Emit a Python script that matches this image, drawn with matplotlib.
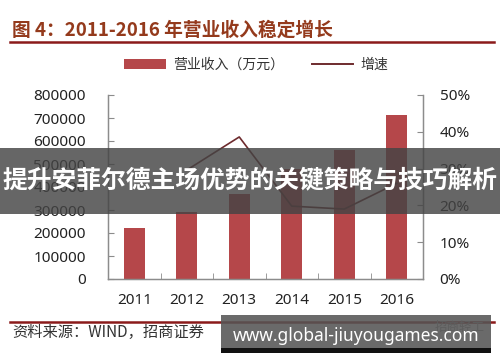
import matplotlib
matplotlib.use("Agg")
import matplotlib.pyplot as plt
from matplotlib.patches import Rectangle, Patch
from matplotlib.lines import Line2D
from matplotlib.ticker import FuncFormatter, MultipleLocator, FixedLocator

plt.rcParams['font.family'] = ['Noto Sans CJK SC', 'DejaVu Sans']

years = ['2011', '2012', '2013', '2014', '2015', '2016']
revenue = [220000, 290000, 368000, 478000, 560000, 712000]
growth_years = ['2012', '2013', '2014', '2015', '2016']
growth = [0.296, 0.386, 0.198, 0.190, 0.260]

title = '图 4：2011-2016 年营业收入稳定增长'
legend_labels = ['营业收入（万元）', '增速']
source = '资料来源：WIND，招商证券'
banner = '提升安菲尔德主场优势的关键策略与技巧解析'
site = 'www.global-jiuyougames.com'
logo = '招商轻工'

W, H = 500, 362
fig = plt.figure(figsize=(W / 100, H / 100), dpi=100)

def fx(px):
    return px / W

def fy(py):
    return 1 - py / H

bar_color = '#B5474A'
line_color = '#6E2B2E'
axis_color = '#8C8C8C'
tick_family = ['Noto Sans', 'DejaVu Sans']
tick_size = 11

ax = fig.add_axes([fx(108), fy(279), fx(423) - fx(108), fy(95) - fy(279)])
x = list(range(len(years)))
ax.bar(x, revenue, width=0.4, color=bar_color, zorder=2)
ax.set_xlim(-0.5, len(years) - 0.5)
ax.set_ylim(0, 800000)
ax.yaxis.set_major_locator(MultipleLocator(100000))
ax.yaxis.set_major_formatter(FuncFormatter(lambda v, p: f'{int(v)}'))
ax.set_xticks(x)
ax.set_xticklabels(years)
ax.xaxis.set_minor_locator(FixedLocator([i + 0.5 for i in range(len(years) - 1)]))
ax.tick_params(axis='x', which='major', length=0, pad=10, colors='#222222')
ax.tick_params(axis='x', which='minor', direction='in', length=4, color=axis_color)
ax.tick_params(axis='y', direction='in', length=4, pad=16, labelcolor='#222222', color=axis_color)
for lab in ax.get_xticklabels() + ax.get_yticklabels():
    lab.set_fontfamily(tick_family)
    lab.set_fontsize(tick_size)
ax.spines['top'].set_visible(False)
for s in ['left', 'right', 'bottom']:
    ax.spines[s].set_color(axis_color)
    ax.spines[s].set_linewidth(1.0)

ax2 = ax.twinx()
gx = [years.index(y) for y in growth_years]
ax2.plot(gx, growth, color=line_color, linewidth=1.2, zorder=3)
ax2.set_ylim(0, 0.5)
ax2.yaxis.set_major_locator(MultipleLocator(0.1))
ax2.yaxis.set_major_formatter(FuncFormatter(lambda v, p: f'{int(round(v * 100))}%'))
ax2.tick_params(axis='y', direction='in', length=4, pad=12, labelcolor='#222222', color=axis_color)
for lab in ax2.get_yticklabels():
    lab.set_fontfamily(tick_family)
    lab.set_fontsize(tick_size)
ax2.spines['top'].set_visible(False)
for s in ['left', 'right', 'bottom']:
    ax2.spines[s].set_color(axis_color)

# title and rules
fig.text(fx(12), fy(30), title, fontsize=13.5, fontweight='bold', color='#943A1C',
         ha='left', va='center')
fig.add_artist(Line2D([fx(10), fx(494)], [fy(42), fy(42)], color='#8B1A1A', linewidth=1.8))
fig.add_artist(Line2D([fx(10), fx(494)], [fy(322), fy(322)], color='#8B1A1A', linewidth=1.8))
fig.text(fx(12), fy(332), source, fontsize=11, color='#333333', ha='left', va='center')

# legend
handles = [Patch(facecolor=bar_color, edgecolor='none'),
           Line2D([0], [0], color=line_color, linewidth=1.4)]
fig.legend(handles, legend_labels, loc='center', bbox_to_anchor=(fx(256), fy(65)),
           ncol=2, frameon=False, fontsize=10, handlelength=3.0, handleheight=0.7,
           handletextpad=0.5, columnspacing=2.0, labelcolor='#333333')

# faint logo text behind bottom box
fig.text(fx(460), fy(327), logo, fontsize=9, color='#9a9a9a', ha='center', va='center')

# overlay banners
fig.add_artist(Rectangle((0, fy(214)), 1, fy(148) - fy(214), transform=fig.transFigure,
                         facecolor='#444444', alpha=0.82, edgecolor='none', zorder=10))
fig.text(0.5, fy(180), banner, fontsize=17.8, fontweight='bold', color='white',
         ha='center', va='center', zorder=11)

fig.add_artist(Rectangle((fx(221), fy(348)), fx(491) - fx(221), fy(315) - fy(348),
                         transform=fig.transFigure, facecolor='#555555', alpha=0.88,
                         edgecolor='none', zorder=10))
fig.add_artist(Rectangle((fx(221), fy(353)), fx(491) - fx(221), fy(348) - fy(353),
                         transform=fig.transFigure, facecolor='#111111',
                         edgecolor='none', zorder=10))
fig.text(fx(356), fy(336), site, fontsize=12.5, fontweight='bold', color='white',
         ha='center', va='center', zorder=11, family=['Noto Sans', 'DejaVu Sans'])

fig.savefig('out.png', dpi=100)
